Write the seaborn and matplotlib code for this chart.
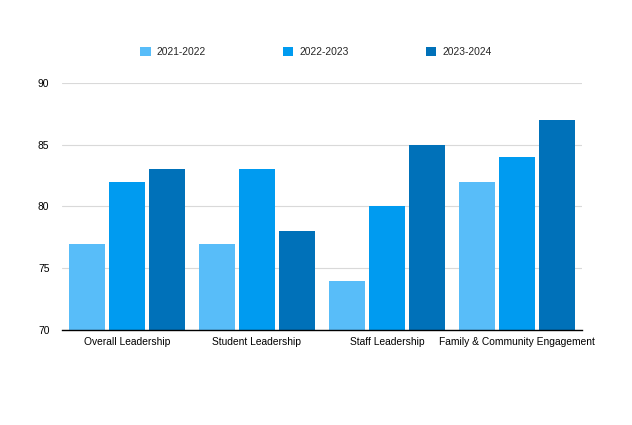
import pandas
import matplotlib.pyplot as pyplot
import seaborn

# data
categories = ["Overall Leadership", "Student Leadership", "Staff Leadership",
              "Family & Community Engagement"]
years = ["2021-2022", "2022-2023", "2023-2024"]
scores_2122 = [77, 77, 74, 82]
scores_2223 = [82, 83, 80, 84]
scores_2324 = [83, 78, 85, 87]
colors = ["#58bdf9", "#009bf0", "#0071b9"]

rows = []
for year, vals in zip(years, [scores_2122, scores_2223, scores_2324]):
    for cat, v in zip(categories, vals):
        rows.append({"Category": cat, "Year": year, "Score": v})
df = pandas.DataFrame(rows)

# style
seaborn.set_style("white")
pyplot.rcParams["font.family"] = ["Liberation Sans", "DejaVu Sans"]
pyplot.rcParams["font.size"] = 7.4

fig = pyplot.figure(figsize=(6.32, 4.25), dpi=100)
ax = fig.add_axes([0.098, 0.2235, 0.823, 0.5815])

seaborn.barplot(data=df, x="Category", y="Score", hue="Year", palette=colors,
                width=0.92, gap=0.1, saturation=1, linewidth=0, ax=ax)

ax.set_ylim(70, 90)
ax.set_yticks([70, 75, 80, 85, 90])
ax.set_xlim(-0.5, 3.5)
ax.set_xlabel("")
ax.set_ylabel("")
ax.grid(axis="y", color="#d9d9d9", linewidth=0.8)
ax.set_axisbelow(True)
for side in ["top", "right", "left"]:
    ax.spines[side].set_visible(False)
ax.spines["bottom"].set_color("black")
ax.spines["bottom"].set_linewidth(1)
ax.tick_params(axis="both", length=0, labelsize=7.4, colors="black")
ax.tick_params(axis="y", pad=9)
ax.tick_params(axis="x", pad=5)

handles, labels = ax.get_legend_handles_labels()
ax.legend_.remove()
fig.legend(handles, labels, loc="center", bbox_to_anchor=(0.500, 1 - 52 / 425),
           ncol=3, frameon=False, handlelength=1.0, handleheight=1.0,
           handletextpad=0.6, columnspacing=7.5, fontsize=7.4)

pyplot.savefig("out.png", dpi=100)
